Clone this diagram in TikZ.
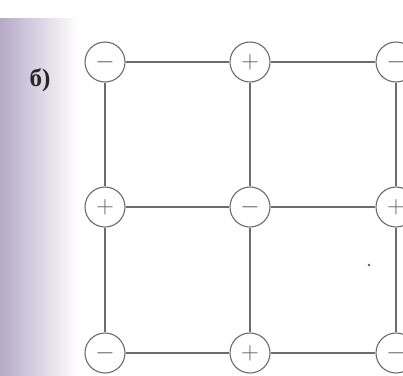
\documentclass[tikz,border=0pt]{standalone}
\usepackage{fontspec}
\newfontfamily\cyrserif{Liberation Serif}
\begin{document}
\begin{tikzpicture}[x=1pt,y=-1pt,
  chg/.style={circle,draw=gray!85!black,line width=1.1pt,minimum size=40pt,inner sep=0pt,fill=white,
    text=gray!75!black,font=\fontsize{24}{24}\selectfont},
  grid/.style={draw=gray!85!black,line width=1.2pt}]
\useasboundingbox (0,0) rectangle (403,375);
\fill[white] (0,0) rectangle (403,375);
% binding shadow
\shade[left color={rgb,255:red,182;green,170;blue,200},right color=white] (0,18) rectangle (78,375);
% label
\node[font=\cyrserif\bfseries\fontsize{25}{25}\selectfont,text=black!85] (lab) at (40,80) {б)};
% nodes
\node[chg] (a1) at (105,62) {$-$};
\node[chg] (a2) at (250,62) {$+$};
\node[chg] (a3) at (396,62) {$-$};
\node[chg] (b1) at (105,207) {$+$};
\node[chg] (b2) at (250,207) {$-$};
\node[chg] (b3) at (396,207) {$+$};
\node[chg] (c1) at (105,353) {$-$};
\node[chg] (c2) at (250,353) {$+$};
\node[chg] (c3) at (396,353) {$-$};
% connectors
\draw[grid] (a1) -- (a2); \draw[grid] (a2) -- (a3);
\draw[grid] (b1) -- (b2); \draw[grid] (b2) -- (b3);
\draw[grid] (c1) -- (c2); \draw[grid] (c2) -- (c3);
\draw[grid] (a1) -- (b1); \draw[grid] (b1) -- (c1);
\draw[grid] (a2) -- (b2); \draw[grid] (b2) -- (c2);
\draw[grid] (a3) -- (b3); \draw[grid] (b3) -- (c3);
% stray speck
\fill[gray!70!black] (369,265) circle (1.3pt);
\end{tikzpicture}
\end{document}
